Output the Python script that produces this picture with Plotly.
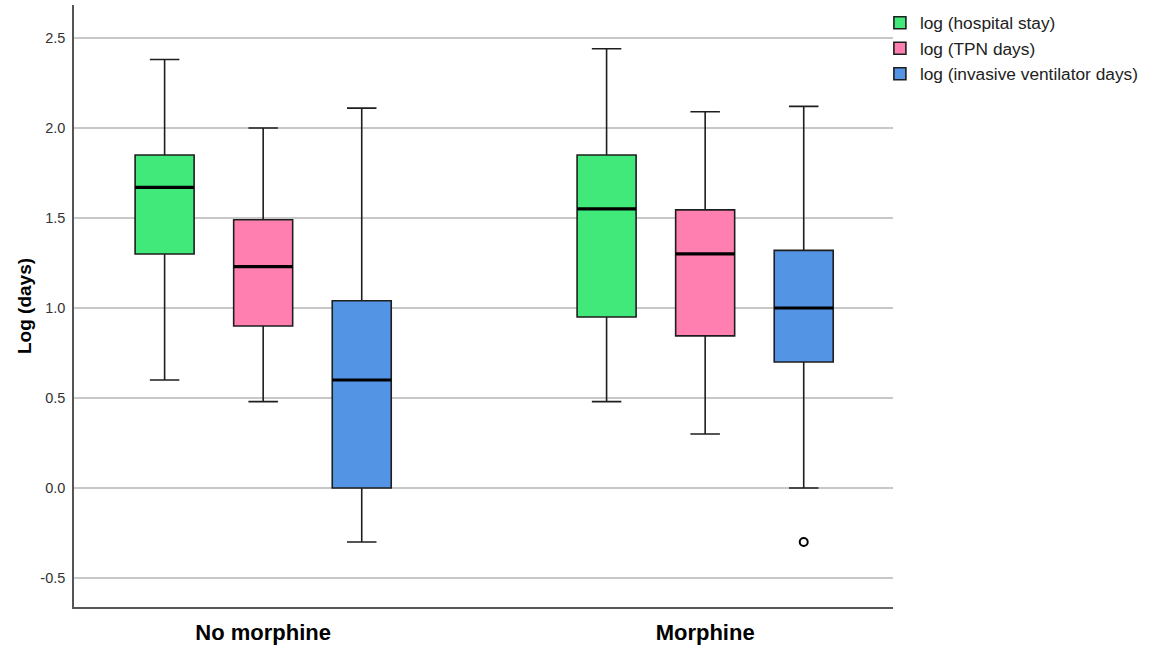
import plotly.graph_objects as go

# ---- data ----
groups = ["No morphine", "Morphine"]
series_names = ["log (hospital stay)", "log (TPN days)", "log (invasive ventilator days)"]

hosp_low = [0.60, 0.48]
hosp_q1 = [1.30, 0.95]
hosp_med = [1.67, 1.55]
hosp_q3 = [1.85, 1.85]
hosp_up = [2.38, 2.44]

tpn_low = [0.48, 0.30]
tpn_q1 = [0.90, 0.845]
tpn_med = [1.23, 1.30]
tpn_q3 = [1.49, 1.545]
tpn_up = [2.00, 2.09]

vent_low = [-0.30, 0.00]
vent_q1 = [0.00, 0.70]
vent_med = [0.60, 1.00]
vent_q3 = [1.04, 1.32]
vent_up = [2.11, 2.12]

vent_outlier_group = [1]
vent_outlier_y = [-0.30]

colors = ["#41E87A", "#FF80B0", "#5494E4"]

# ---- layout constants ----
slot = 0.223
box_w = 0.1335
FONT = "Arial, Liberation Sans, sans-serif"

stats = [
    (hosp_low, hosp_q1, hosp_med, hosp_q3, hosp_up),
    (tpn_low, tpn_q1, tpn_med, tpn_q3, tpn_up),
    (vent_low, vent_q1, vent_med, vent_q3, vent_up),
]

fig = go.Figure()
gpos = list(range(len(groups)))
for i, (name, col, (lo, q1, md, q3, up)) in enumerate(zip(series_names, colors, stats)):
    off = (i - 1) * slot
    xs = [g + off for g in gpos]
    fig.add_trace(go.Box(
        name=name, x=xs, q1=q1, median=md, q3=q3, lowerfence=lo, upperfence=up,
        width=box_w, whiskerwidth=0.5, fillcolor=col,
        line=dict(color="#1e1e1e", width=1.6),
        showlegend=True, hoverinfo="skip",
    ))
    # thicker median lines
    mx, my = [], []
    for x, m in zip(xs, md):
        mx += [x - box_w / 2, x + box_w / 2, None]
        my += [m, m, None]
    fig.add_trace(go.Scatter(x=mx, y=my, mode="lines", line=dict(color="black", width=3.2),
                             showlegend=False, hoverinfo="skip"))

# outlier
fig.add_trace(go.Scatter(
    x=[g + slot for g in vent_outlier_group], y=vent_outlier_y, mode="markers",
    marker=dict(symbol="circle-open", size=8, color="black", line=dict(width=2)),
    showlegend=False, hoverinfo="skip"))

fig.update_layout(
    width=1164, height=646,
    margin=dict(l=74, r=271, t=5, b=39),
    paper_bgcolor="white", plot_bgcolor="white",
    font=dict(family=FONT, color="#222"),
    legend=dict(x=0.984, y=1.0, xanchor="left", yanchor="top",
                font=dict(size=17.3, color="#222"),
                bgcolor="rgba(0,0,0,0)", itemwidth=30),
    showlegend=True,
)
fig.update_xaxes(
    range=[-0.428, 1.425], tickvals=gpos, ticktext=groups, automargin=False,
    showgrid=False, zeroline=False, showline=True, linecolor="#555", linewidth=1.5,
    tickfont=dict(size=22, color="black", family=FONT, weight="bold"),
    ticks="", ticklabelstandoff=5,
)
fig.update_yaxes(
    range=[-0.661, 2.683], tickvals=[-0.5, 0, 0.5, 1.0, 1.5, 2.0, 2.5],
    ticktext=["-0.5", "0.0", "0.5", "1.0", "1.5", "2.0", "2.5"], automargin=False,
    showgrid=True, gridcolor="#c8c8c8", gridwidth=1.5, zeroline=False,
    showline=True, linecolor="#555", linewidth=1.5,
    tickfont=dict(size=14.5, color="#333"), ticks="", ticklabelstandoff=4,
    title=dict(text="Log (days)", font=dict(size=19, color="black", weight="bold"), standoff=4),
)

fig.write_html("out.html")
